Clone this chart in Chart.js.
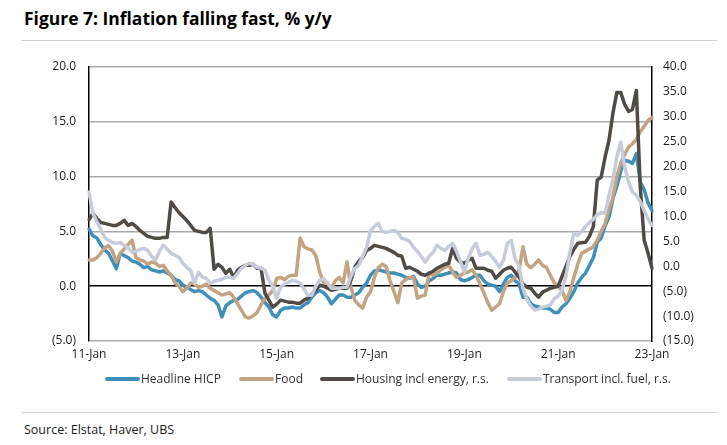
<!DOCTYPE html>
<html><head><meta charset="utf-8">
<script src="https://cdn.jsdelivr.net/npm/chart.js@4.4.0/dist/chart.umd.min.js"></script>
<style>
body{margin:0;background:#fff;width:727px;height:445px;position:relative;overflow:hidden;font-family:'Open Sans',sans-serif;}
#title{position:absolute;left:24px;top:6px;font-weight:bold;font-size:18px;color:#000;white-space:nowrap;transform-origin:left top;transform:scaleX(0.97);}
.rule{position:absolute;left:22px;width:695px;height:1px;background:#cfcfcf;}
#wrap{position:absolute;left:0;top:0;width:727px;height:372px;}
#legend{position:absolute;top:370px;left:0;width:727px;height:18px;font-size:12px;color:#333;}
.item{position:absolute;top:0;white-space:nowrap;line-height:18px;}
.sw{display:inline-block;width:35px;height:4px;border-radius:2px;vertical-align:middle;margin-right:1px;position:relative;top:-1px;}
#source{position:absolute;left:24px;top:421px;font-size:12.5px;color:#222;}
</style></head>
<body>
<div id="title">Figure 7: Inflation falling fast, % y/y</div>
<div class="rule" style="top:40px"></div>
<div id="wrap"><canvas id="c" width="727" height="372"></canvas></div>
<div id="legend"></div>
<div class="rule" style="top:412px"></div>
<div id="source">Source: Elstat, Haver, UBS</div>
<script>
// Monthly, Jan 2011 .. Jan 2023
const months = [];
const monNames = ['Jan','Feb','Mar','Apr','May','Jun','Jul','Aug','Sep','Oct','Nov','Dec'];
for (let y = 11; y <= 23; y++) { for (let m = 0; m < 12; m++) { if (y === 23 && m > 0) break; months.push(y + '-' + monNames[m]); } }

const seriesNames = ['Headline HICP', 'Food', 'Housing incl energy, r.s.', 'Transport incl. fuel, r.s.'];
const seriesColors = ['#3f8fbb', '#c2a382', '#514b45', '#c6ccd9'];

const hicp = [
 5.2, 4.6, 4.4, 3.8, 3.3, 3.0, 2.3, 1.6, 3.0, 2.8, 2.6, 2.3,
 2.2, 2.0, 1.7, 1.8, 1.5, 1.4, 1.3, 1.4, 1.2, 1.0, 0.6, 0.5,
 0.1, -0.1, -0.3, -0.5, -0.4, -0.5, -0.8, -1.1, -1.3, -1.7, -2.8, -1.8,
 -1.5, -1.3, -1.2, -0.9, -0.6, -0.5, -0.4, -0.6, -1.0, -1.5, -1.9, -2.6,
 -2.8, -2.2, -2.0, -2.0, -1.9, -2.0, -2.0, -1.7, -1.5, -1.0, -0.6, -0.4,
 -0.6, -1.0, -1.6, -1.2, -0.8, -0.8, -1.0, -1.0, -0.8, -0.6, -0.1, 0.3,
 1.0, 1.4, 1.5, 1.4, 1.3, 1.2, 1.2, 1.1, 1.0, 0.8, 0.7, 0.9,
 0.2, -0.1, 0.0, 0.5, 0.7, 1.0, 1.0, 1.1, 1.2, 1.3, 1.2, 0.6,
 0.5, 0.6, 0.8, 1.0, 1.0, 0.5, 0.2, 0.1, 0.0, -0.5, 0.2, 0.8,
 1.0, 0.5, 0.2, -1.0, -1.0, -1.6, -1.8, -1.9, -2.0, -2.0, -2.1, -2.4,
 -2.4, -1.9, -1.6, -1.1, -0.5, 0.3, 0.8, 1.2, 1.9, 2.6, 4.0, 4.4,
 5.5, 6.3, 8.0, 9.1, 10.5, 11.5, 11.4, 11.2, 12.1, 9.5, 8.8, 7.6,
 6.9];

const food = [
 2.4, 2.4, 2.6, 3.0, 3.5, 3.7, 3.2, 2.2, 3.0, 3.4, 3.8, 4.2,
 2.6, 2.4, 2.3, 2.0, 2.2, 2.1, 1.8, 1.9, 1.4, 1.0, 0.3, 0.0,
 -0.5, -0.2, 0.3, 0.2, -0.1, 0.0, 0.2, -0.2, -0.4, -0.6, -0.8, -0.7,
 -0.6, -1.0, -1.6, -2.2, -2.8, -2.9, -2.7, -2.4, -1.7, -1.1, -0.8, -0.4,
 0.7, 0.8, 0.6, 0.9, 1.0, 1.0, 4.4, 3.6, 3.4, 3.3, 2.8, 1.3,
 0.3, 0.3, -0.2, 0.5, 0.8, 0.3, 2.2, -0.1, -1.3, -1.7, -2.0, -1.0,
 -0.5, 0.8, 1.7, 2.0, 1.8, 0.5, -0.5, -1.5, 0.3, 0.6, 0.8, 0.8,
 -1.1, -0.9, -0.8, 1.2, 1.0, 1.2, 1.5, 1.7, 1.9, 1.3, 0.8, 1.0,
 1.2, 1.3, 1.5, 1.0, 0.2, -0.6, -1.5, -2.2, -1.9, -1.6, -0.5, 0.3,
 0.5, 0.8, 1.5, 3.6, 2.0, 1.7, 2.0, 2.4, 1.9, 1.7, 1.0, 0.3,
 0.0, -0.4, -1.3, -0.5, 0.8, 2.0, 3.0, 3.2, 3.4, 3.6, 4.2, 5.0,
 5.7, 7.0, 8.1, 10.0, 11.2, 12.0, 12.7, 13.0, 13.4, 14.1, 14.6, 15.1,
 15.4];

const housing = [
 9.4, 10.6, 9.6, 8.8, 8.6, 8.4, 8.2, 8.2, 8.6, 9.2, 8.2, 8.6,
 8.0, 7.2, 6.6, 6.0, 5.8, 5.6, 5.6, 5.8, 5.8, 12.9, 11.8, 10.8,
 10.0, 9.2, 8.2, 7.2, 7.0, 6.8, 6.8, 7.6, -0.6, 0.4, -0.2, -1.4,
 -0.6, -2.2, -0.8, -0.2, 0.2, 0.2, 0.4, -0.4, -0.4, -5.4, -6.8, -8.2,
 -7.6, -6.8, -7.0, -7.2, -7.2, -7.4, -7.4, -6.8, -6.4, -5.6, -4.8, -3.8,
 -4.0, -4.4, -4.8, -4.6, -4.4, -4.4, -4.4, -2.8, -0.2, 1.0, 1.8, 3.2,
 3.6, 4.2, 4.0, 3.8, 3.6, 3.2, 2.8, 2.2, 2.0, -0.4, -0.2, -0.6,
 -1.0, -1.6, -1.8, -1.4, -1.0, -0.4, 0.0, 0.4, 0.6, 3.6, 1.6, 0.8,
 0.6, 1.2, 1.6, -0.4, -0.4, -0.4, -0.8, -1.0, -2.4, -1.6, -0.8, -0.4,
 -0.2, -1.2, -2.2, -3.6, -4.2, -4.4, -5.4, -6.2, -5.2, -4.8, -4.4, -4.2,
 -4.0, -2.0, 0.0, 2.0, 3.4, 4.6, 4.7, 4.8, 6.0, 8.0, 17.3, 17.9,
 21.9, 25.3, 30.7, 34.9, 34.9, 32.5, 31.1, 31.5, 35.3, 15.9, 5.2, 2.6,
 -0.4];

const transport = [
 14.9, 10.6, 9.0, 7.5, 5.8, 5.2, 4.8, 4.6, 4.8, 4.2, 3.6, 2.8,
 3.0, 3.4, 3.6, 3.2, 2.0, 1.2, 3.0, 4.2, 3.4, 2.6, 2.2, 1.8,
 0.6, -0.2, -0.8, -3.4, -1.2, -2.2, -2.4, -3.4, -3.0, -2.8, -2.6, -2.2,
 -2.2, -2.4, -1.4, -0.4, 0.2, 0.6, 0.4, -0.2, -0.4, -0.8, -2.8, -4.0,
 -6.4, -4.2, -3.6, -3.2, -2.8, -3.0, -3.4, -4.6, -5.8, -5.8, -4.0, -2.8,
 -2.4, -3.4, -4.4, -4.4, -4.4, -4.2, -4.2, -2.0, -0.4, 0.2, 2.0, 3.8,
 7.2, 8.0, 8.6, 7.0, 6.8, 7.0, 7.2, 6.8, 5.6, 5.4, 5.0, 3.8,
 3.0, 2.0, 0.8, 2.0, 2.8, 4.2, 3.6, 3.2, 4.0, 4.6, 3.0, 1.0,
 -1.2, 1.6, 3.5, 4.6, 2.2, 2.4, 2.8, 2.0, 1.0, -0.2, 1.2, 4.6,
 5.2, 1.5, 0.0, -4.5, -6.6, -8.0, -8.8, -8.6, -8.2, -8.0, -7.8, -6.5,
 -6.0, -4.8, -2.0, 2.8, 6.6, 6.2, 7.0, 8.0, 8.8, 9.4, 10.4, 10.8,
 10.6, 14.3, 17.3, 22.0, 24.9, 20.0, 17.0, 14.9, 14.3, 13.0, 11.2, 9.5,
 8.2];

const leftTicks = [-5, 0, 5, 10, 15, 20];
const rightTicks = [-15, -10, -5, 0, 5, 10, 15, 20, 25, 30, 35, 40];

const FONT = "'Open Sans', sans-serif";
const fmt = v => v < 0 ? '(' + Math.abs(v).toFixed(1) + ')' : v.toFixed(1);

const seriesData = [hicp, food, housing, transport];
const axes = ['yL', 'yL', 'yR', 'yR'];
const datasets = seriesData.map((d, i) => ({
  label: seriesNames[i], data: d, yAxisID: axes[i],
  borderColor: seriesColors[i], backgroundColor: seriesColors[i],
  borderWidth: 3.5, pointRadius: 0, tension: 0, order: 4 - i,
  borderJoinStyle: 'round', borderCapStyle: 'round'
}));

new Chart(document.getElementById('c'), {
  type: 'line',
  data: { labels: months, datasets },
  options: {
    responsive: false, animation: false, devicePixelRatio: 1,
    layout: { padding: { top: 67, left: 0, right: 0, bottom: 0 } },
    plugins: { legend: { display: false }, tooltip: { enabled: false } },
    scales: {
      x: {
        type: 'category', offset: false,
        grid: { display: false, drawTicks: false },
        border: { display: false },
        ticks: {
          autoSkip: false, maxRotation: 0, minRotation: 0, padding: 6,
          color: '#222', font: { family: FONT, size: 12 },
          callback: function(v, i) { if (i % 24 !== 0) return ''; const p = months[i].split('-'); return p[0] + '-' + p[1]; }
        },
        afterFit: s => { s.height = 31; }
      },
      yL: {
        position: 'left', min: -5, max: 20,
        afterBuildTicks: s => { s.ticks = leftTicks.map(v => ({ value: v })); },
        grid: { drawTicks: false, color: c => c.tick && c.tick.value === 0 ? '#000' : '#a9a9a9', lineWidth: 1.5 },
        border: { display: true, color: '#000', width: 1.5 },
        ticks: { padding: 13, color: '#222', font: { family: FONT, size: 12 }, callback: v => fmt(v) },
        afterFit: s => { s.width = 89; }
      },
      yR: {
        position: 'right', min: -15, max: 40,
        afterBuildTicks: s => { s.ticks = rightTicks.map(v => ({ value: v })); },
        grid: { display: false, drawTicks: false },
        border: { display: true, color: '#000', width: 1.5 },
        ticks: { padding: 11, color: '#222', font: { family: FONT, size: 12 }, callback: v => fmt(v) },
        afterFit: s => { s.width = 75; }
      }
    }
  }
});

// legend
const legPos = [105, 239, 320, 507];
const leg = document.getElementById('legend');
seriesNames.forEach((n, i) => {
  const d = document.createElement('div');
  d.className = 'item'; d.style.left = legPos[i] + 'px';
  d.innerHTML = '<span class="sw" style="background:' + seriesColors[i] + '"></span>' + n;
  leg.appendChild(d);
});
</script>
</body></html>
